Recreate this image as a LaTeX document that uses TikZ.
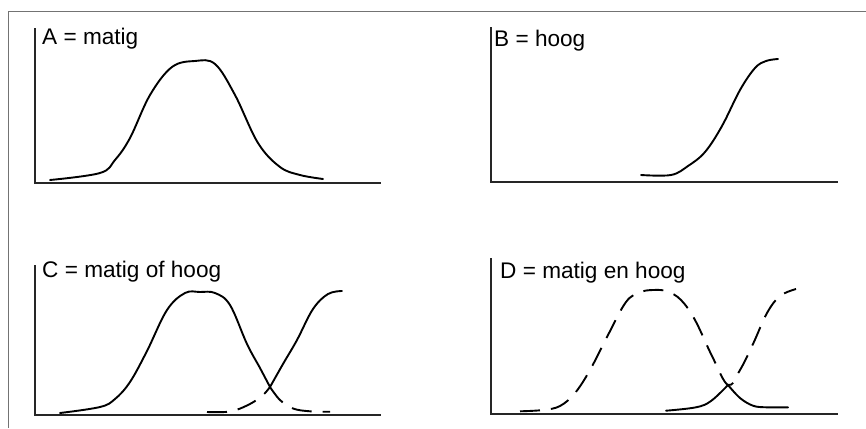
\documentclass[tikz,border=0pt]{standalone}
\usepackage{fontspec}
\setmainfont{Liberation Sans}
\begin{document}
\begin{tikzpicture}[x=1pt,y=-1pt,
  frame/.style={draw=black!55,line width=0.9pt},
  axis/.style={draw=black!85,line width=1.5pt,line cap=rect},
  curve/.style={draw=black,line width=1.9pt,line cap=round,line join=round},
  dcurve/.style={curve,line cap=butt,dash pattern=on 20pt off 11pt},
  lbl/.style={anchor=base west,inner sep=0pt,font=\fontsize{22.6}{26}\selectfont},
  sm/.style={smooth,tension=0.6}]
\useasboundingbox (0,0) rectangle (866,428);
% outer frame (top and left edges)
\draw[frame] (8,428) -- (8,11) -- (866,11);
% ---- Panel A ----
\draw[axis] (35,29) -- (35,183) -- (380,183);
\node[lbl] (la) at (42,45) {A = matig};
\draw[curve] plot[sm] coordinates {(50,180) (100,173) (115,160) (130,138) (150,95) (172,67) (195,61) (215,64) (235,95) (258,143) (280,167) (300,175) (323,179)};
% ---- Panel B ----
\draw[axis] (491,28) -- (491,182) -- (837,182);
\node[lbl] (lb) at (494,47) {B = hoog};
\draw[curve] plot[sm] coordinates {(641,175) (671,175) (688,166) (705,152) (722,126) (740,90) (755,68) (766,61) (778,59)};
% ---- Panel C ----
\draw[axis] (35,266) -- (35,415) -- (380,415);
\node[lbl] (lc) at (42,277) {C = matig of hoog};
\draw[curve] plot[sm] coordinates {(60,413) (100,407) (115,399) (130,382) (147,351) (167,310) (185,293) (200,292) (215,293) (230,305) (247,344) (260,368) (270,387)};
\draw[curve] plot[sm] coordinates {(270,387) (283,364) (297,340) (313,309) (328,294) (342,291)};
\draw[dcurve] plot[sm] coordinates {(207,412) (230,411.5) (248,405) (262,396) (270,387)};
\draw[dcurve] plot[sm] coordinates {(270,387) (280,400) (293,408.5) (310,411.3) (330,411.7)};
% ---- Panel D ----
\draw[axis] (491,259) -- (491,414) -- (837,414);
\node[lbl] (ld) at (500,278) {D = matig en hoog};
\draw[dcurve] plot[sm] coordinates {(520,411.3) (543,410) (560,406) (575,393) (590,370) (608,335) (626,302) (640,292.3) (653,290) (667,291.3) (681,300) (695,320) (712,356) (728,385) (740,370) (753,344) (767,313) (780,296) (796,289)};
\draw[curve] plot[sm] coordinates {(666,410.7) (696,407.3) (711,401) (728,385)};
\draw[curve] plot[sm] coordinates {(728,385) (740,398) (753,405.7) (766,407.3) (788,407.3)};
\end{tikzpicture}
\end{document}
